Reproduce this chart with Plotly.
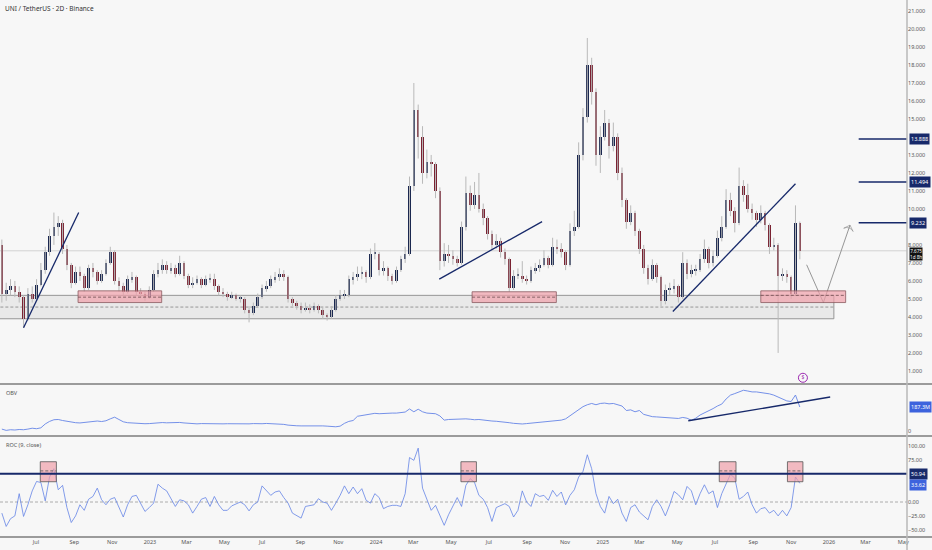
import plotly.graph_objects as go
import pandas as pd
import numpy as np

# weekly-resampled UNI/USDT candles
first_open = 8.0
closes = [
    5.3, 5.5, 5.7, 5.4, 5.1, 3.9, 5.3, 5.0, 5.8, 6.6,
    7.6, 8.5, 9.0, 9.2, 7.8, 6.9, 5.9, 6.5, 6.3, 5.6,
    6.7, 6.5, 6.0, 6.4, 7.0, 7.6, 6.0, 5.7, 5.4, 6.1,
    6.2, 5.4, 5.3, 5.1, 5.5, 6.4, 6.6, 6.9, 6.6, 6.7,
    6.4, 7.0, 6.3, 5.8, 5.9, 6.1, 5.8, 6.1, 6.1, 5.7,
    5.4, 5.3, 5.1, 5.2, 5.0, 5.0, 4.4, 4.2, 4.6, 5.1,
    5.6, 5.7, 6.1, 6.2, 6.4, 6.2, 5.0, 4.8, 4.6, 4.4,
    4.5, 4.4, 4.6, 4.4, 4.1, 4.0, 4.4, 5.0, 5.2, 5.2,
    6.1, 6.2, 6.4, 6.5, 6.2, 7.5, 7.5, 6.6, 6.7, 6.3,
    6.0, 6.6, 7.2, 7.5, 11.3, 15.5, 14.0, 12.0, 12.6, 12.5,
    11.0, 7.1, 7.5, 7.4, 7.2, 7.0, 9.0, 10.9, 10.2, 10.8,
    10.0, 9.5, 8.6, 8.0, 8.2, 7.6, 7.2, 5.6, 6.3, 6.3,
    6.1, 6.0, 6.6, 6.7, 6.9, 7.3, 6.9, 7.9, 7.8, 7.6,
    6.9, 8.8, 9.0, 13.0, 15.1, 18.0, 16.5, 13.0, 14.0, 14.8,
    13.5, 14.0, 12.0, 10.5, 9.3, 9.8, 8.8, 7.8, 6.7, 6.1,
    6.9, 6.2, 4.9, 5.5, 5.6, 5.7, 5.1, 7.0, 6.4, 6.6,
    6.6, 7.2, 7.8, 7.0, 7.4, 8.4, 9.0, 10.5, 9.9, 9.2,
    11.3, 10.8, 10.0, 9.8, 9.4, 9.8, 9.1, 7.9, 8.0, 6.3,
    6.4, 6.2, 5.3, 9.2, 7.675,
]
highs = [
    8.3, 5.9, 6.1, 6.0, 5.7, 5.2, 5.6, 5.7, 6.1, 7.0,
    7.9, 8.9, 9.8, 9.6, 9.4, 8.0, 7.0, 6.8, 6.8, 6.4,
    6.9, 7.0, 6.6, 6.6, 7.2, 7.9, 7.7, 6.2, 5.9, 6.3,
    6.5, 6.3, 5.6, 5.4, 5.7, 6.6, 7.0, 7.2, 7.1, 7.0,
    6.9, 7.4, 7.1, 6.4, 6.2, 6.3, 6.2, 6.3, 6.4, 6.4,
    5.8, 5.6, 5.4, 5.4, 5.3, 5.2, 5.1, 4.6, 4.8, 5.3,
    5.8, 6.0, 6.3, 6.5, 6.7, 6.6, 6.3, 5.1, 4.9, 4.8,
    4.8, 4.7, 4.8, 4.7, 4.5, 4.2, 4.6, 5.2, 5.5, 5.5,
    6.3, 6.5, 6.8, 6.8, 6.6, 7.8, 8.1, 7.6, 7.1, 6.8,
    6.4, 6.8, 7.4, 7.9, 11.8, 17.0, 15.8, 14.6, 13.3, 13.0,
    12.6, 11.2, 8.1, 8.0, 7.7, 7.4, 9.3, 11.8, 11.3, 11.5,
    12.0, 10.3, 9.6, 8.8, 8.6, 8.4, 7.8, 7.3, 6.6, 6.7,
    7.1, 6.3, 6.8, 7.0, 7.2, 7.7, 7.4, 8.4, 8.3, 8.1,
    7.7, 9.2, 9.9, 13.7, 15.6, 19.5, 18.4, 16.7, 14.6, 15.5,
    15.0, 14.8, 14.2, 12.3, 10.6, 10.2, 9.9, 8.9, 8.0, 6.9,
    7.2, 7.0, 6.3, 5.8, 5.9, 6.1, 5.8, 7.6, 7.2, 6.9,
    6.9, 7.5, 8.3, 7.9, 7.7, 8.8, 9.6, 11.1, 10.9, 10.1,
    12.3, 11.6, 11.4, 10.3, 9.9, 10.2, 9.9, 9.2, 8.4, 8.1,
    6.7, 6.6, 6.3, 10.2, 9.3,
]
lows = [
    4.8, 4.9, 5.2, 5.1, 4.8, 3.4, 3.8, 4.8, 4.9, 5.7,
    6.4, 7.4, 8.0, 8.5, 7.5, 6.6, 5.6, 5.8, 6.0, 5.4,
    5.5, 6.2, 5.8, 5.9, 6.3, 6.9, 5.8, 5.4, 5.2, 5.3,
    5.9, 5.2, 5.1, 4.9, 5.0, 5.4, 6.2, 6.4, 6.4, 6.4,
    6.2, 6.3, 6.1, 5.6, 5.6, 5.8, 5.6, 5.7, 5.9, 5.5,
    5.2, 5.1, 4.9, 5.0, 4.9, 4.8, 4.2, 3.7, 4.1, 4.5,
    5.0, 5.4, 5.6, 5.9, 6.0, 6.0, 4.8, 4.6, 4.4, 4.2,
    4.3, 4.2, 4.3, 4.2, 3.9, 3.8, 3.9, 4.3, 4.9, 5.0,
    5.1, 5.8, 6.0, 6.1, 5.9, 6.1, 7.2, 6.3, 6.3, 6.0,
    5.8, 5.9, 6.5, 7.0, 7.4, 11.0, 12.8, 11.4, 11.7, 11.8,
    10.6, 6.6, 6.8, 7.0, 6.9, 6.8, 6.9, 8.8, 9.9, 10.0,
    9.8, 9.1, 8.3, 7.7, 7.8, 7.3, 6.9, 5.4, 5.5, 6.1,
    5.9, 5.8, 5.9, 6.4, 6.5, 6.8, 6.7, 6.8, 7.5, 7.3,
    6.6, 6.8, 8.5, 8.9, 12.7, 14.8, 15.8, 12.4, 12.0, 13.8,
    12.8, 13.2, 11.6, 10.1, 8.9, 9.1, 8.5, 7.5, 6.4, 5.8,
    6.0, 5.9, 4.6, 4.7, 5.2, 5.3, 4.8, 5.0, 6.1, 6.2,
    6.3, 6.5, 7.0, 6.7, 6.8, 7.3, 8.2, 8.9, 9.6, 8.7,
    9.1, 10.4, 9.8, 9.4, 9.0, 9.2, 8.8, 7.5, 7.7, 2.0,
    6.0, 5.9, 5.0, 5.2, 7.2,
]
obv = [
    15, 5, 10, 8, 12, 10, 15, 22, 18, 25,
    55, 75, 88, 90, 82, 75, 68, 65, 63, 66,
    70, 75, 78, 74, 80, 95, 108, 90, 72, 65,
    62, 60, 58, 57, 58, 62, 65, 66, 64, 66,
    65, 67, 63, 60, 58, 56, 58, 57, 55, 55,
    54, 56, 57, 56, 55, 54, 55, 56, 58, 56,
    57, 59, 58, 57, 56, 52, 46, 42, 41, 40,
    41, 40, 42, 40, 40, 38, 36, 33, 38, 60,
    75, 82, 115, 120, 125, 135, 138, 135, 138, 138,
    140, 140, 142, 148, 172, 150, 170, 150, 140, 140,
    135, 118, 85, 90, 92, 90, 92, 95, 92, 88,
    90, 85, 80, 78, 76, 74, 72, 65, 60, 57,
    55, 58, 62, 65, 68, 72, 74, 78, 82, 85,
    95, 120, 140, 165, 190, 205, 215, 205, 215, 218,
    212, 215, 205, 195, 160, 165, 150, 160, 130, 118,
    112, 110, 108, 104, 100, 102, 98, 106, 100, 84,
    100, 125, 140, 160, 175, 195, 210, 250, 280, 292,
    305, 318, 312, 305, 305, 300, 300, 290, 280, 265,
    245, 235, 230, 281, 187.3,
]
roc = [
    -20, -44, -30, -25, 15, -26, -5, 20, 37, 35,
    2, 45, 60, 22, 30, -10, -37, -25, -5, -15,
    5, 10, 25, 4, -5, 5, 8, -8, -27, -5,
    10, 12, -3, -17, -10, -2, 32, 25, 20, 6,
    -8, 4, 2, -5, -20, -8, 5, 8, -8, 10,
    -5, -15, -15, -7, -3, 0, -5, -16, -5, 0,
    29, 20, 12, 18, 20, 8, -2, -20, -25, -29,
    -8, -6, -5, 6, 0, -2, -15, -2, 12, 29,
    15, 27, 15, 24, 3, -2, 15, 8, -12, -8,
    -6, -6, -8, 15, 80, 75, 97, 25, 5, -15,
    -6, -25, -42, -23, -8, 8, -8, 30, 42, 35,
    12, 5, -10, -35, -10, -6, -3, -8, -27, -15,
    20, 0, -8, 15, 10, 12, 3, 21, 10, 18,
    -5, 12, 22, 45, 55, 85, 60, 15, -8, -20,
    10, -3, 5, -20, -35, -10, -5, -18, -25, -32,
    -8, 4, -8, -25, -5, 19, 13, 4, 28, 20,
    -5, 15, 31, 15, 20, -10, 15, 34, 50, 43,
    5, 10, 18, -5, -20, -12, -10, -20, -15, -25,
    -15, -25, -10, 45, 33.62,
]

tick_dates = ['2022-07-01', '2022-09-01', '2022-11-01', '2023-01-01', '2023-03-01', '2023-05-01',
              '2023-07-01', '2023-09-01', '2023-11-01', '2024-01-01', '2024-03-01', '2024-05-01',
              '2024-07-01', '2024-09-01', '2024-11-01', '2025-01-01', '2025-03-01', '2025-05-01',
              '2025-07-01', '2025-09-01', '2025-11-01', '2026-01-01', '2026-03-01', '2026-05-01']
tick_text = ['Jul', 'Sep', 'Nov', '2023', 'Mar', 'May', 'Jul', 'Sep', 'Nov', '2024', 'Mar', 'May',
             'Jul', 'Sep', 'Nov', '2025', 'Mar', 'May', 'Jul', 'Sep', 'Nov', '2026', 'Mar', 'May']
# price-scale ticks (the ones hidden behind the level tags are left out)
price_ticks = [1, 2, 3, 4, 5, 6, 7, 8, 10, 11, 12, 13, 15, 16, 17, 18, 19, 20, 21]
roc_ticks = [100, 75, 0, -25, -50]

# drawings
trend_x = [['2022-06-11', '2022-09-08'], ['2024-04-12', '2024-09-25'], ['2025-04-24', '2025-11-08']]
trend_y = [[3.4, 9.8], [6.1, 9.3], [4.3, 11.4]]
target_levels = [13.888, 11.494, 9.232]
target_start = '2026-02-18'
proj_x = ['2025-11-26', '2025-12-23', '2026-02-04']
proj_y = [6.9, 4.8, 9.1]
zone_x = ['2022-03-01', '2026-01-09']
zone_y = [3.9, 5.2]
zone_mid = 4.55
pink_x = [['2022-09-07', '2023-01-20'], ['2024-06-04', '2024-10-18'], ['2025-09-13', '2026-01-28']]
pink_y = [[4.8, 5.45], [4.8, 5.4], [4.8, 5.45]]
pink_mid = [5.1, 5.1, 5.2]
roc_box_x = [['2022-07-08', '2022-08-03'], ['2024-05-17', '2024-06-11'],
             ['2025-07-08', '2025-08-04'], ['2025-10-26', '2025-11-20']]
roc_box_y = [36.5, 72.5]
roc_box_mid = 56
roc_level = 50.94
obv_trend_x = ['2025-05-19', '2026-01-03']
obv_trend_y = [80, 265]
last_price = 7.675
event_x = ['2025-11-20']
event_y = [0.62]

NAVY = '#17296a'
UP = '#1b2850'
DOWN = '#7a2232'
BLUE = '#6584e6'
BG = '#f7f7f7'
SEP = '#7d7d7d'

dates = pd.date_range('2022-05-07', periods=len(closes), freq='7D')
opens = [first_open] + closes[:-1]
body_hi = np.maximum(opens, closes)
body_lo = np.minimum(opens, closes)
body_col = [UP if c >= o else DOWN for o, c in zip(opens, closes)]

wx, wy = [], []
for d, lo, hi in zip(dates, lows, highs):
    wx += [d, d, None]
    wy += [lo, hi, None]

fig = go.Figure()
fig.add_trace(go.Scatter(x=wx, y=wy, mode='lines', line={'color': '#b9b9b9', 'width': 1},
                         hoverinfo='skip', showlegend=False))
fig.add_trace(go.Bar(x=dates, y=np.maximum(body_hi - body_lo, 0.06), base=body_lo,
                     width=4.2 * 86400000, marker={'color': body_col, 'line': {'width': 0}},
                     showlegend=False))
for tx, ty in zip(trend_x, trend_y):
    fig.add_trace(go.Scatter(x=tx, y=ty, mode='lines', line={'color': NAVY, 'width': 1.3},
                             showlegend=False, hoverinfo='skip'))
fig.add_trace(go.Scatter(x=proj_x, y=proj_y, mode='lines+markers', line={'color': '#8a8a8a', 'width': 0.9},
                         marker={'symbol': 'arrow-wide-open', 'angleref': 'previous', 'size': [0, 0, 7],
                                 'color': '#8a8a8a', 'line': {'width': 0.9, 'color': '#8a8a8a'}},
                         showlegend=False, hoverinfo='skip'))
fig.add_trace(go.Scatter(x=event_x, y=event_y, mode='markers+text', text=['$'], textposition='middle center',
                         textfont={'size': 5, 'color': '#9c27b0'},
                         marker={'symbol': 'circle-open', 'size': 9, 'color': '#9c27b0', 'line': {'width': 1}},
                         showlegend=False, hoverinfo='skip'))

# OBV
fig.add_trace(go.Scatter(x=dates, y=obv, yaxis='y2', mode='lines', line={'color': BLUE, 'width': 0.9},
                         showlegend=False))
fig.add_trace(go.Scatter(x=obv_trend_x, y=obv_trend_y, yaxis='y2', mode='lines',
                         line={'color': NAVY, 'width': 1.4}, showlegend=False))
# ROC
fig.add_trace(go.Scatter(x=dates, y=roc, yaxis='y3', mode='lines', line={'color': BLUE, 'width': 0.8},
                         showlegend=False))

shapes = []
# support zone
shapes.append(dict(type='rect', xref='x', yref='y', x0=zone_x[0], x1=zone_x[1], y0=zone_y[0], y1=zone_y[1],
                   fillcolor='rgba(205,205,205,0.33)', line={'color': '#8c8c8c', 'width': 0.9}, layer='below'))
shapes.append(dict(type='line', xref='x', yref='y', x0=zone_x[0], x1=zone_x[1], y0=zone_mid, y1=zone_mid,
                   line={'color': '#8c8c8c', 'width': 0.9, 'dash': '3px,2px'}, layer='below'))
for px_, py_, pm in zip(pink_x, pink_y, pink_mid):
    shapes.append(dict(type='rect', xref='x', yref='y', x0=px_[0], x1=px_[1], y0=py_[0], y1=py_[1],
                       fillcolor='rgba(240,160,170,0.7)', line={'color': '#8a5a60', 'width': 0.8}))
    shapes.append(dict(type='line', xref='x', yref='y', x0=px_[0], x1=px_[1], y0=pm, y1=pm,
                       line={'color': '#6b4a4e', 'width': 0.8, 'dash': '3px,2px'}))
# current price line
shapes.append(dict(type='line', xref='paper', yref='y', x0=0, x1=1, y0=last_price, y1=last_price,
                   line={'color': '#d2d2d2', 'width': 1}, layer='below'))
# target levels
for lvl in target_levels:
    shapes.append(dict(type='line', xref='x', yref='y', x0=target_start, x1='2026-05-07', y0=lvl, y1=lvl,
                       line={'color': NAVY, 'width': 1.5}))
# ROC drawings
shapes.append(dict(type='line', xref='paper', yref='y3', x0=0, x1=1, y0=0, y1=0,
                   line={'color': '#9a9a9a', 'width': 0.8, 'dash': '3px,2px'}, layer='below'))
for bx in roc_box_x:
    shapes.append(dict(type='rect', xref='x', yref='y3', x0=bx[0], x1=bx[1], y0=roc_box_y[0], y1=roc_box_y[1],
                       fillcolor='rgba(240,160,170,0.7)', line={'color': '#555555', 'width': 0.8}))
    shapes.append(dict(type='line', xref='x', yref='y3', x0=bx[0], x1=bx[1], y0=roc_box_mid, y1=roc_box_mid,
                       line={'color': '#555555', 'width': 0.8, 'dash': '3px,2px'}))
shapes.append(dict(type='line', xref='paper', yref='y3', x0=0, x1=1, y0=roc_level, y1=roc_level,
                   line={'color': NAVY, 'width': 2}))
# pane separators and price scale border
for yy in [1 - 384 / 537, 1 - 436 / 537, 0]:
    shapes.append(dict(type='line', xref='paper', yref='paper', x0=0, x1=932 / 907, y0=yy, y1=yy,
                       line={'color': SEP, 'width': 1.3}))
shapes.append(dict(type='line', xref='paper', yref='paper', x0=1, x1=1, y0=-0.03, y1=1,
                   line={'color': '#b8b8b8', 'width': 1.5}))

annotations = [
    dict(text='UNI / TetherUS · 2D · Binance', xref='paper', yref='paper', x=0.003, y=0.997,
         xanchor='left', yanchor='top', showarrow=False, font={'size': 6.5, 'color': '#333333'}),
    dict(text='OBV', xref='paper', yref='paper', x=0.004, y=1 - 387 / 537, xanchor='left', yanchor='top',
         showarrow=False, font={'size': 5.5, 'color': '#555555'}),
    dict(text='ROC (9, close)', xref='paper', yref='paper', x=0.004, y=1 - 439 / 537, xanchor='left',
         yanchor='top', showarrow=False, font={'size': 5.5, 'color': '#555555'}),
]


def price_tag(text, yref, yval, bg, anchor='middle', size=5.5, pad=1):
    return dict(text=text, xref='paper', yref=yref, x=1.002, y=yval, xanchor='left', yanchor=anchor,
                showarrow=False, bgcolor=bg, borderpad=pad, font={'size': size, 'color': 'white'})


for lvl in target_levels:
    annotations.append(price_tag('%.3f' % lvl, 'y', lvl, NAVY))
annotations.append(price_tag('7.675<br>1d 8h', 'y', last_price + 0.2, '#111111', anchor='top', size=4.6, pad=0))
annotations.append(price_tag('187.3M', 'y2', obv[-1], '#3d63dd'))
annotations.append(price_tag('%.2f' % roc_level, 'y3', roc_level, NAVY))
annotations.append(price_tag('%.2f' % roc[-1], 'y3', roc[-1] - 3, '#3d63dd'))

tickfont = {'size': 5.5, 'color': '#555555'}
fig.update_layout(
    width=932, height=550,
    paper_bgcolor=BG, plot_bgcolor=BG,
    margin={'l': 0, 'r': 25, 't': 0, 'b': 13},
    font={'family': 'Noto Sans', 'color': '#444444'},
    bargap=0,
    xaxis={'range': ['2022-05-04', '2026-05-07'], 'anchor': 'y3', 'showgrid': False, 'zeroline': False,
           'tickvals': tick_dates, 'ticktext': tick_text, 'tickfont': tickfont, 'ticks': '',
           'showline': False},
    yaxis={'domain': [1 - 383 / 537, 1], 'range': [0.33, 21.61], 'side': 'right', 'anchor': 'x',
           'tickvals': price_ticks, 'tickformat': '.3f', 'showgrid': False, 'zeroline': False,
           'tickfont': tickfont, 'ticks': ''},
    yaxis2={'domain': [1 - 435 / 537, 1 - 385 / 537], 'range': [-31, 359], 'side': 'right', 'anchor': 'x',
            'tickvals': [0], 'ticktext': ['0'], 'showgrid': False, 'zeroline': False,
            'tickfont': tickfont, 'ticks': ''},
    yaxis3={'domain': [0, 1 - 437 / 537], 'range': [-63, 117], 'side': 'right', 'anchor': 'x',
            'tickvals': roc_ticks, 'tickformat': '.2f', 'showgrid': False,
            'zeroline': False, 'tickfont': tickfont, 'ticks': ''},
    shapes=shapes,
    annotations=annotations,
    showlegend=False,
    hovermode=False,
)

fig.write_html('out.html', config={'displayModeBar': False},
               post_script="document.body.style.margin='0';")
